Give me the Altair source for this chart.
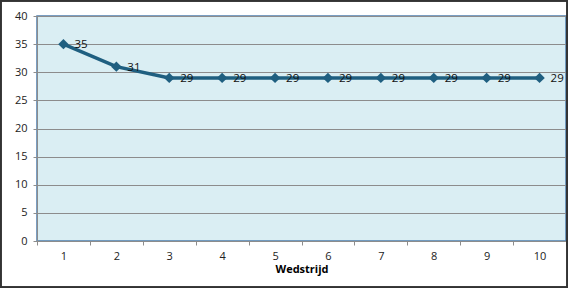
import altair as alt
import pandas as pd

wedstrijd = [1, 2, 3, 4, 5, 6, 7, 8, 9, 10]
waarde = [35, 31, 29, 29, 29, 29, 29, 29, 29, 29]

df = pd.DataFrame({"Wedstrijd": wedstrijd, "Waarde": waarde})

W, H = 529, 225
FONT = "Open Sans"
LINE = "#1F5F80"

x = alt.X("Wedstrijd:O", title="Wedstrijd",
          scale=alt.Scale(type="band", paddingInner=0, paddingOuter=0),
          axis=alt.Axis(labelAngle=0, tickBand="extent", tickSize=4,
                        tickColor="#8c8c8c", domainColor="#8c8c8c",
                        labelFont=FONT, labelFontSize=11, labelColor="#222",
                        labelPadding=5, titleFont=FONT, titleFontSize=11,
                        titleFontWeight="bold", titleColor="#000", titlePadding=2))
y = alt.Y("Waarde:Q", title=None,
          scale=alt.Scale(domain=[0, 40]),
          axis=alt.Axis(values=[0, 5, 10, 15, 20, 25, 30, 35, 40], tickSize=4,
                        tickColor="#8c8c8c", domainColor="#8c8c8c",
                        gridColor="#8c8c8c", gridWidth=1,
                        labelFont=FONT, labelFontSize=11, labelColor="#222",
                        labelPadding=6))

base = alt.Chart(df)
line = base.mark_line(color=LINE, strokeWidth=3.5).encode(x=x, y=y)
pts = base.mark_point(shape="diamond", filled=True, color=LINE, size=110, opacity=1).encode(x=x, y=y)
labels = base.mark_text(align="left", baseline="middle", dx=11, dy=1, font=FONT,
                        fontSize=11.5, color="#111").encode(x=x, y=y, text="Waarde:Q")

border = alt.Chart(df).mark_rect(fill=None, stroke="#333", strokeWidth=1.5).encode(
    x=alt.value(-36.5), x2=alt.value(W + 1.5), y=alt.value(-15.5), y2=alt.value(H + 46.5))

chart = alt.layer(line, pts, labels, border).properties(
    width=W, height=H,
    autosize=alt.AutoSizeParams(type="none"),
    padding={"left": 37, "top": 16, "right": 2, "bottom": 47},
).configure(background="white").configure_view(
    fill="#DAEEF3", stroke="#4f7fae", strokeWidth=1.5
)

chart.save("out.html", embed_options={"renderer": "svg", "actions": False})
